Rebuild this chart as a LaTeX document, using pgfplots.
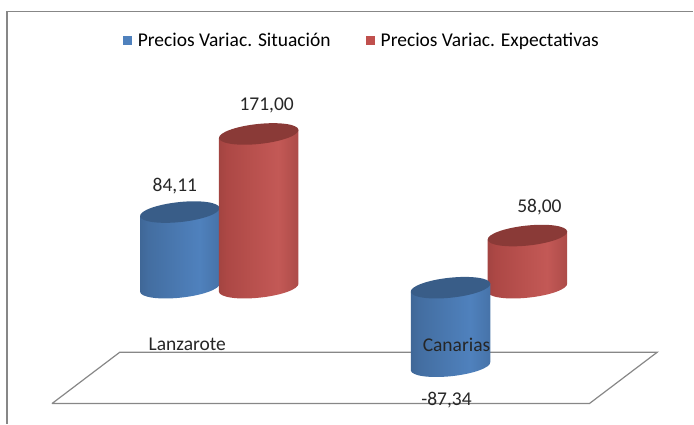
\documentclass[border=0pt]{standalone}
\usepackage{pgfplots}
\usepackage{fontspec}
\setmainfont{Carlito}
\pgfplotsset{compat=1.18}
\usetikzlibrary{plotmarks}

\definecolor{blueside}{HTML}{4F81BD}
\definecolor{redside}{HTML}{C0504D}
\pgfdeclarehorizontalshading{cylblue}{100bp}{
  color(0bp)=(blueside!55!black); color(30bp)=(blueside!85!black); color(62bp)=(blueside!100!white);
  color(85bp)=(blueside!80!black); color(100bp)=(blueside!45!black)}
\pgfdeclarehorizontalshading{cylred}{100bp}{
  color(0bp)=(redside!60!black); color(30bp)=(redside!90!black); color(62bp)=(redside!95!white);
  color(85bp)=(redside!80!black); color(100bp)=(redside!45!black)}

% 1 unit on the y axis = 0.9pt, the cylinder's height comes from the y value
\newcommand\cylbody[2]{%
  \pgfmathsetmacro\cylh{abs(\barval)*0.9}%
  \pgfmathsetmacro\cyltop{\barval<0 ? \cylh : 0}%
  \pgfmathsetmacro\cylbot{\cyltop-\cylh}%
  \begin{scope}
    \path[draw=none,shading=#1] (-39.78pt,\cyltop pt-4.18pt) -- (-39.78pt,\cylbot pt-4.18pt)
      .. controls (-39.2pt,\cylbot pt-9.67pt) and (-20.92pt,\cylbot pt-12.26pt) .. (1.05pt,\cylbot pt-9.95pt)
      .. controls (23.02pt,\cylbot pt-7.64pt) and (40.36pt,\cylbot pt-1.31pt) .. (39.78pt,\cylbot pt+4.18pt)
      -- (39.78pt,\cyltop pt+4.18pt) -- cycle;
    \path[draw=none,fill=#2] (0pt,\cyltop pt) circle[x radius=40pt,y radius=10pt,rotate=6];
  \end{scope}}
\pgfdeclareplotmark{cylb}{\cylbody{cylblue}{blueside!72!black}}
\pgfdeclareplotmark{cylr}{\cylbody{cylred}{redside!72!black}}
\pgfplotsset{cyl/.style={only marks,mark=#1,visualization depends on={y\as\barval}}}

\begin{document}
\begin{tikzpicture}
\begin{axis}[
  scale only axis, width=694pt, height=424pt,
  xmin=0, xmax=694, ymin=-151.1, ymax=320,
  set layers=axis on top,
  axis line style={draw=none}, tick style={draw=none},
  ytick=\empty,
  xtick={187.5,457}, xticklabels={Lanzarote,Canarias},
  xticklabel pos=bottom,
  xticklabel style={font=\fontsize{19.5}{19.5}\selectfont,color=black!85,anchor=center,yshift=79pt},
  clip=false,
  legend style={at={(0.5219,0.905)},anchor=center,draw=none,fill=none,legend columns=2,
    font=\fontsize{19.5}{19.5}\selectfont,
    /tikz/every even column/.append style={column sep=33pt}},
  legend image code/.code={\fill[#1,draw=none] (0,-4.5pt) rectangle (9pt,4.5pt); \path[draw=none] (9pt,0) -- (13pt,0);},
]
% frame
\addplot[forget plot,color=black!47,line width=1.5pt] coordinates {(7,-151.1) (7,307) (694,307)};
% floor
\addplot[forget plot,color=black!47,line width=1.2pt] coordinates {(52,-128.9) (590,-128.9) (658,-71.7) (120,-71.7) (52,-128.9)};
% Lanzarote
\addplot[forget plot,cyl=cylb] coordinates {(180,84.11)};
\addplot[forget plot,cyl=cylr] coordinates {(259,171)};
% Canarias
\addplot[forget plot,cyl=cylr] coordinates {(528,58)};
\addplot[forget plot,cyl=cylb] coordinates {(451,-87.34)};
% labels
\addplot[forget plot,only marks,mark=none,nodes near coords,point meta=explicit symbolic,
  nodes near coords style={anchor=center,font=\fontsize{19.5}{19.5}\selectfont,color=black!85}]
  table[meta=lab] {
  x y lab
  175 113.5 84,11
  267 202.5 171,00
  540 89.5 58,00
  447 -125.5 -87,34
};
\addlegendimage{blueside}
\addlegendentry{Precios Variac. Situación}
\addlegendimage{redside}
\addlegendentry{Precios Variac. Expectativas}
\end{axis}
\end{tikzpicture}
\end{document}
